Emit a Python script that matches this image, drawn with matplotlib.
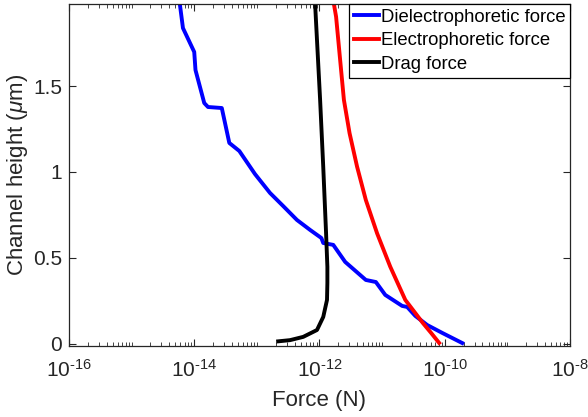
import numpy as np
import matplotlib
matplotlib.use("Agg")
import matplotlib.pyplot as plt
from matplotlib.ticker import FixedLocator, LogLocator, NullFormatter

plt.rcParams["font.family"] = ["Liberation Sans", "DejaVu Sans"]
plt.rcParams["mathtext.fontset"] = "custom"
plt.rcParams["mathtext.rm"] = "Liberation Sans"
plt.rcParams["mathtext.it"] = "Liberation Sans:italic"

# Dielectrophoretic force (log10 N) vs channel height (um)
dep_log = [-9.72, -10.04, -10.28, -10.47, -10.60, -10.68, -10.95, -11.10, -11.26,
           -11.59, -11.78, -11.94, -11.97, -12.15, -12.36, -12.58, -12.79, -13.03,
           -13.28, -13.44, -13.56, -13.78, -13.84, -13.98, -14.00, -14.18, -14.23]
dep_h = [0.005, 0.064, 0.110, 0.163, 0.215, 0.221, 0.285, 0.360, 0.372,
         0.477, 0.576, 0.587, 0.616, 0.663, 0.721, 0.802, 0.878, 0.988,
         1.122, 1.169, 1.372, 1.378, 1.401, 1.593, 1.698, 1.837, 1.977]

# Electrophoretic force
ep_log = [-10.09, -10.22, -10.35, -10.63, -10.87, -11.08, -11.26, -11.40, -11.52,
          -11.61, -11.66, -11.735, -11.77]
ep_h = [0.006, 0.065, 0.122, 0.256, 0.449, 0.643, 0.837, 1.031, 1.226,
        1.419, 1.612, 1.903, 1.977]

# Drag force
drag_log = [-12.66, -12.47, -12.26, -12.04, -11.94, -11.88, -11.874, -11.874,
            -11.895, -11.94, -11.99, -12.07]
drag_h = [0.015, 0.022, 0.041, 0.081, 0.157, 0.256, 0.355, 0.448,
          0.645, 1.029, 1.419, 1.977]

xticks = [1e-16, 1e-14, 1e-12, 1e-10, 1e-8]
xticklabels = [r"$10^{\text{-}16}$", r"$10^{\text{-}14}$", r"$10^{\text{-}12}$",
               r"$10^{\text{-}10}$", r"$10^{\text{-}8}$"]
yticks = [0, 0.5, 1, 1.5]
yticklabels = ["0", "0.5", "1", "1.5"]

fig = plt.figure(figsize=(5.88, 4.17), dpi=100)
ax = fig.add_axes([0.1173, 0.1703, 0.9694 - 0.1173, 0.9904 - 0.1703])

lw = 2.8
ax.plot(10 ** np.array(dep_log), dep_h, color="#0000FF", lw=lw, label="Dielectrophoretic force")
ax.plot(10 ** np.array(ep_log), ep_h, color="#FF0000", lw=lw, label="Electrophoretic force")
ax.plot(10 ** np.array(drag_log), drag_h, color="black", lw=lw, label="Drag force")

ax.set_xscale("log")
ax.set_xlim(1e-16, 1e-8)
ax.set_ylim(-0.012, 1.977)

ax.xaxis.set_major_locator(FixedLocator(xticks))
ax.set_xticklabels(xticklabels)
ax.xaxis.set_minor_locator(LogLocator(base=10, subs=np.arange(1, 10), numticks=100))
ax.xaxis.set_minor_formatter(NullFormatter())
ax.set_yticks(yticks)
ax.set_yticklabels(yticklabels)

axcol = "#262626"
for s in ax.spines.values():
    s.set_color(axcol)
    s.set_linewidth(0.9)
ax.tick_params(which="both", direction="in", top=True, right=True, color=axcol,
               labelsize=15, labelcolor="#262626")
ax.tick_params(which="major", length=5, width=0.8)
ax.tick_params(which="minor", length=3, width=0.6)
ax.tick_params(axis="x", which="major", pad=9)
ax.tick_params(axis="y", which="major", pad=5)

ax.set_xlabel("Force (N)", fontsize=16, color="#262626", labelpad=7)
ax.set_ylabel(r"Channel height ($\mu$m)", fontsize=16, color="#262626", labelpad=2)

leg = ax.legend(loc="upper right", borderaxespad=0, fontsize=13.3, handlelength=1.35,
                handletextpad=0.1, borderpad=0.25, labelspacing=0.36, fancybox=False,
                framealpha=1, edgecolor="black")
leg.get_frame().set_linewidth(0.9)

fig.savefig("out.png", dpi=100)
